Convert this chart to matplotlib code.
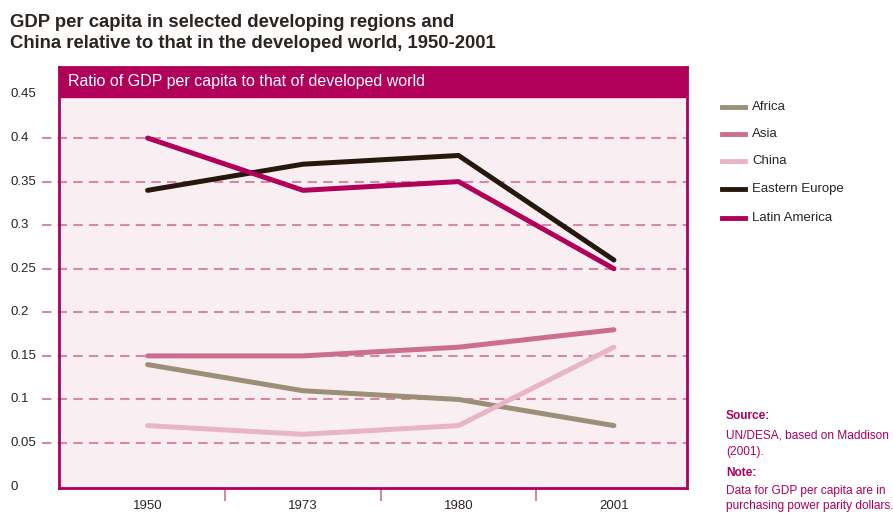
import matplotlib; matplotlib.use("Agg")
import matplotlib.pyplot as plt
from matplotlib.lines import Line2D

years = ["1950", "1973", "1980", "2001"]
africa = [0.14, 0.11, 0.10, 0.07]
asia = [0.15, 0.15, 0.16, 0.18]
china = [0.07, 0.06, 0.07, 0.16]
east_europe = [0.34, 0.37, 0.38, 0.26]
latin_america = [0.40, 0.34, 0.35, 0.25]
yticks = [0, 0.05, 0.1, 0.15, 0.2, 0.25, 0.3, 0.35, 0.4, 0.45]
ylabels = ["0", "0.05", "0.1", "0.15", "0.2", "0.25", "0.3", "0.35", "0.4", "0.45"]

plt.rcParams["font.family"] = ["Liberation Sans", "DejaVu Sans"]

MAG = "#b0005a"
GRID = "#d48aa6"
INK = "#2b2420"
series = [("Africa", africa, "#9b8f78"), ("Asia", asia, "#cc6e92"), ("China", china, "#e8b4c7"),
          ("Eastern Europe", east_europe, "#26180c"), ("Latin America", latin_america, "#b0005a")]

fig = plt.figure(figsize=(8.93, 5.14), dpi=100)
ax = fig.add_axes([0.0661, 0.0506, 0.7032, 0.819])
ax.set_facecolor("#f9eff2")
ax.set_xlim(-0.57, 3.47); ax.set_ylim(-0.0016, 0.4815)
# header band
ax.axhspan(0.447, 0.49, color=MAG, zorder=1)
ax.text(0.014, 0.4645, "Ratio of GDP per capita to that of developed world", color="white",
        fontsize=11.5, va="center", ha="left", transform=ax.get_yaxis_transform())
# dashed gridlines extending left of the frame
for v in yticks[1:-1]:
    ax.plot([-0.68, 3.47], [v, v], color=GRID, lw=1.5, ls=(0, (4.5, 3)), clip_on=False, zorder=2)
for v, lab in zip(yticks, ylabels):
    ax.text(-0.0775, v, lab, transform=ax.get_yaxis_transform(), ha="left", va="center",
            fontsize=9.5, color=INK)
x = list(range(len(years)))
for name, vals, c in series:
    ax.plot(x, vals, color=c, lw=3.6, solid_capstyle="round", solid_joinstyle="round", zorder=3)
for s in ax.spines.values():
    s.set_color(MAG); s.set_linewidth(2)
ax.set_yticks([])
ax.set_xticks(x, years)
ax.tick_params(axis="x", length=0, pad=9, labelsize=9.5, labelcolor=INK)
ax.set_xticks([0.5, 1.5, 2.5], minor=True)
ax.tick_params(axis="x", which="minor", length=9, width=1.5, color=GRID, direction="out")

fig.text(0.011, 0.957, "GDP per capita in selected developing regions and", fontsize=13.3,
         fontweight="bold", color=INK, va="center")
fig.text(0.011, 0.915, "China relative to that in the developed world, 1950-2001", fontsize=13.3,
         fontweight="bold", color=INK, va="center")

ly = [107, 134, 161, 189, 218]
for (name, vals, c), yy in zip(series, ly):
    fy = 1 - yy / 514
    fig.add_artist(Line2D([722 / 893, 745 / 893], [fy, fy], color=c, lw=3.5, transform=fig.transFigure))
    fig.text(752 / 893, fy, name, fontsize=9.5, color=INK, va="center")

fs = 8.6
fig.text(726 / 893, 1 - 416 / 514, "Source:", fontsize=fs, fontweight="bold", color=MAG, va="center")
fig.text(726 / 893, 1 - 435 / 514, "UN/DESA, based on Maddison", fontsize=fs, color=MAG, va="center")
fig.text(726 / 893, 1 - 452 / 514, "(2001).", fontsize=fs, color=MAG, va="center")
fig.text(726 / 893, 1 - 473 / 514, "Note:", fontsize=fs, fontweight="bold", color=MAG, va="center")
fig.text(726 / 893, 1 - 491 / 514, "Data for GDP per capita are in", fontsize=fs, color=MAG, va="center")
fig.text(726 / 893, 1 - 506 / 514, "purchasing power parity dollars.", fontsize=fs, color=MAG, va="center")

fig.savefig("out.png", dpi=100)
